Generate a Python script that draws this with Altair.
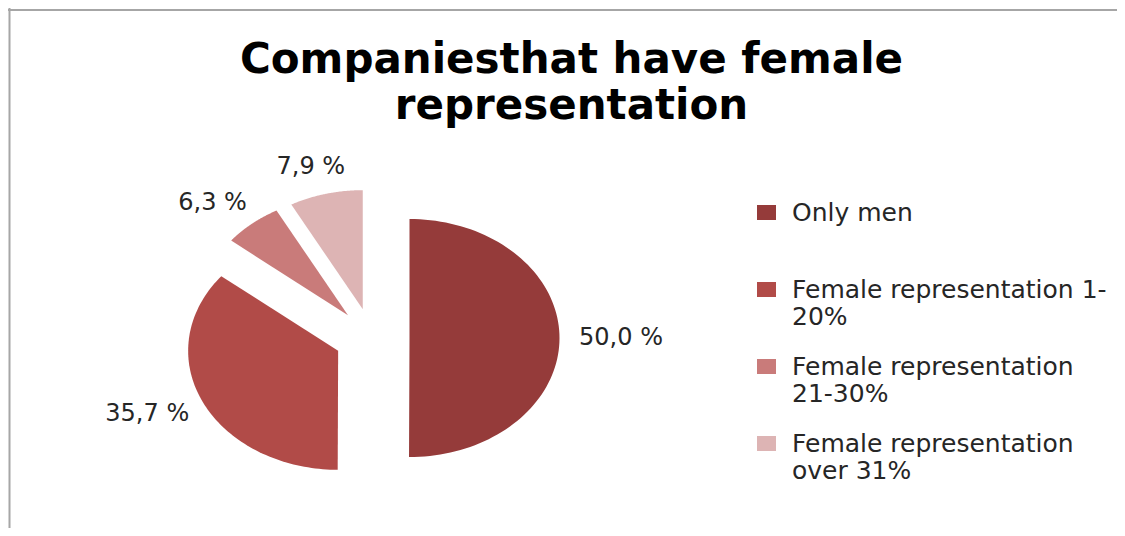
import json
import altair as alt
import pandas as pd

# ---- data -------------------------------------------------------------
categories = [
    "Only men",
    "Female representation 1-20%",
    "Female representation 21-30%",
    "Female representation over 31%",
]
values = [50.0, 35.7, 6.3, 7.9]
legend_lines = [
    ["Only men"],
    ["Female representation 1-", "20%"],
    ["Female representation", "21-30%"],
    ["Female representation", "over 31%"],
]
colors = ["#953b3a", "#b14b48", "#c97b7a", "#ddb4b4"]
title_lines = ["Companiesthat have female", "representation"]

# ---- layout (styles) --------------------------------------------------
W, H = 1109, 520
CX, CY = 364, 330          # pie centre in plot pixels
RX, RY = 150, 119          # pixel size of one radius unit (x / y)
EXPLODE = 0.25
STEPS = 90
FONT = "DejaVu Sans"
TEXT_COLOR = "#262626"

xs = alt.Scale(domain=[-CX / RX, (W - CX) / RX], range=[0, W], nice=False, zero=False)
ys = alt.Scale(domain=[-(H - CY) / RY, CY / RY], range=[H, 0], nice=False, zero=False)

df = pd.DataFrame({"category": categories, "value": values, "order": list(range(len(values)))})

base = (
    alt.Chart(df)
    .transform_window(cum="sum(value)", sort=[alt.SortField("order")], frame=[None, 0])
    .transform_joinaggregate(total="sum(value)")
    .transform_calculate(
        a0="2*PI*(datum.cum - datum.value)/datum.total",
        a1="2*PI*datum.cum/datum.total",
    )
    .transform_calculate(mid="(datum.a0 + datum.a1)/2")
)

label_expr = (
    f"{json.dumps(legend_lines)}[indexof({json.dumps(categories)}, datum.label)]"
)

pie = (
    base.transform_calculate(ks=f"sequence(-1, {STEPS + 1})")
    .transform_flatten(["ks"], as_=["k"])
    .transform_calculate(
        ang=f"datum.a0 + (datum.a1 - datum.a0)*max(datum.k, 0)/{STEPS}",
    )
    .transform_calculate(
        px=f"{EXPLODE}*sin(datum.mid) + (datum.k < 0 ? 0 : sin(datum.ang))",
        py=f"{EXPLODE}*cos(datum.mid) + (datum.k < 0 ? 0 : cos(datum.ang))",
    )
    .mark_line(filled=True, interpolate="linear", strokeWidth=0, opacity=1)
    .encode(
        x=alt.X("px:Q", scale=xs, axis=None),
        y=alt.Y("py:Q", scale=ys, axis=None),
        order=alt.Order("k:Q"),
        color=alt.Color(
            "category:N",
            scale=alt.Scale(domain=categories, range=colors),
            legend=alt.Legend(
                title=None,
                orient="none",
                legendX=746,
                legendY=192,
                symbolType="M-1.27,-1L1.27,-1L1.27,1L-1.27,1Z",
                symbolSize=225,
                symbolStrokeWidth=0,
                symbolOpacity=1,
                labelFont=FONT,
                labelFontSize=25,
                labelColor=TEXT_COLOR,
                labelLimit=600,
                labelOffset=13,
                rowPadding=24,
                gridAlign="all",
                labelExpr=label_expr,
            ),
        ),
    )
)

labels = (
    base.transform_calculate(
        lx=f"({EXPLODE} + 1.13 + 0.28)*sin(datum.mid)",
        ly=f"({EXPLODE} + 1.13 + 0.10)*cos(datum.mid)",
        txt="replace(format(datum.value, '.1f'), '.', ',') + ' %'",
    )
    .mark_text(font=FONT, fontSize=24, color=TEXT_COLOR, align="center", baseline="middle")
    .encode(
        x=alt.X("lx:Q", scale=xs, axis=None),
        y=alt.Y("ly:Q", scale=ys, axis=None),
        text="txt:N",
    )
)

frame_df = pd.DataFrame({"edge": [0]})
top_edge = alt.Chart(frame_df).mark_rule(color="#a6a6a6", strokeWidth=2).encode(
    y=alt.value(2), x=alt.value(0), x2=alt.value(W)
)
left_edge = alt.Chart(frame_df).mark_rule(color="#a6a6a6", strokeWidth=2).encode(
    x=alt.value(1.5), y=alt.value(0), y2=alt.value(H)
)

chart = (
    alt.layer(top_edge, left_edge, pie, labels)
    .properties(
        width=W,
        height=H,
        padding=0,
        autosize=alt.AutoSizeParams(type="none"),
        title=alt.TitleParams(
            text=title_lines,
            font=FONT,
            fontSize=42,
            fontWeight="bold",
            color="black",
            lineHeight=46,
            anchor="middle",
            offset=-121,
            dx=9,
        ),
    )
    .configure_view(stroke=None)
)

chart.save("out.html", embed_options={"renderer": "svg", "actions": False})
